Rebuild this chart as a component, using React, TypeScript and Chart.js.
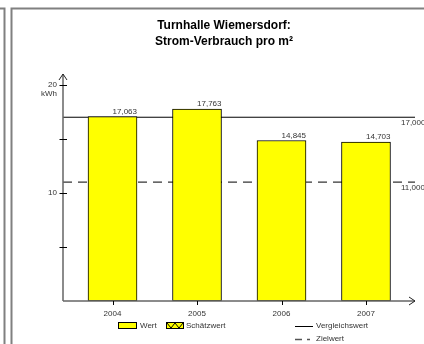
import React, { useEffect, useRef } from 'react';
import { Chart, registerables } from 'chart.js';

Chart.register(...registerables);

// ---- data ----
const TITLE_LINES = ['Turnhalle Wiemersdorf:', 'Strom-Verbrauch pro m²'];
const YEARS = ['2004', '2005', '2006', '2007'];
const WERT = [17.063, 17.763, 14.845, 14.703];
const SCHAETZWERT: (number | null)[] = [null, null, null, null];
const VERGLEICHSWERT = 17.0;
const ZIELWERT = 11.0;
const Y_TICKS = [0, 5, 10, 15, 20];
const Y_LABELED = [10, 20];
const Y_UNIT = 'kWh';
const Y_MAX = 21;
const X_MIN = -0.586;
const X_MAX = 3.58;
const LABEL_WERT = 'Wert';
const LABEL_SCHAETZ = 'Schätzwert';
const LABEL_VERGLEICH = 'Vergleichswert';
const LABEL_ZIEL = 'Zielwert';

const FONT = 'Arial, "Liberation Sans", sans-serif';
const fmt = (v: number) => v.toFixed(3).replace('.', ',');

const decoPlugin = {
  id: 'deco',
  afterDraw(chart: any) {
    const ctx: CanvasRenderingContext2D = chart.ctx;
    const { left, right, top, bottom } = chart.chartArea;
    const xs = chart.scales.x;
    const ys = chart.scales.y;
    ctx.save();

    // panel frames
    ctx.strokeStyle = '#808080';
    ctx.lineWidth = 2;
    ctx.beginPath();
    ctx.moveTo(0, 8.5);
    ctx.lineTo(4.5, 8.5);
    ctx.lineTo(4.5, 344);
    ctx.stroke();
    ctx.beginPath();
    ctx.moveTo(11.5, 344);
    ctx.lineTo(11.5, 8.5);
    ctx.lineTo(424, 8.5);
    ctx.stroke();

    // title
    ctx.fillStyle = '#000';
    ctx.font = `bold 12px ${FONT}`;
    ctx.textAlign = 'center';
    ctx.textBaseline = 'middle';
    TITLE_LINES.forEach((t, i) => ctx.fillText(t, 224, 26 + i * 16));

    // axes
    ctx.strokeStyle = '#666';
    ctx.lineWidth = 1.5;
    ctx.beginPath();
    ctx.moveTo(left, bottom);
    ctx.lineTo(left, top);
    ctx.moveTo(left, bottom);
    ctx.lineTo(right, bottom);
    ctx.stroke();
    ctx.strokeStyle = '#222';
    ctx.lineWidth = 1;
    ctx.beginPath();
    ctx.moveTo(left - 4, top + 6);
    ctx.lineTo(left, top);
    ctx.lineTo(left + 4, top + 6);
    ctx.moveTo(right - 6, bottom - 4);
    ctx.lineTo(right, bottom);
    ctx.lineTo(right - 6, bottom + 4);
    ctx.stroke();

    // tick marks
    ctx.strokeStyle = '#000';
    ctx.beginPath();
    Y_TICKS.filter((v) => v > 0).forEach((v) => {
      const y = Math.round(ys.getPixelForValue(v)) + 0.5;
      ctx.moveTo(left - 3.5, y);
      ctx.lineTo(left + 4, y);
    });
    YEARS.forEach((_, i) => {
      const x = Math.round(xs.getPixelForValue(i)) + 0.5;
      ctx.moveTo(x, bottom);
      ctx.lineTo(x, bottom + 4);
    });
    ctx.stroke();

    // unit
    ctx.fillStyle = '#333';
    ctx.font = `8px ${FONT}`;
    ctx.textAlign = 'right';
    ctx.textBaseline = 'middle';
    ctx.fillText(Y_UNIT, left - 6, ys.getPixelForValue(Y_LABELED[Y_LABELED.length - 1]) + 9);

    // value labels
    const meta = chart.getDatasetMeta(0);
    ctx.textBaseline = 'alphabetic';
    meta.data.forEach((el: any, i: number) => {
      const p = el.getProps(['x', 'y', 'width'], true);
      ctx.fillText(fmt(WERT[i]), p.x + p.width / 2, p.y - 3);
    });

    // reference value labels
    ctx.textAlign = 'left';
    ctx.textBaseline = 'middle';
    ctx.fillText(fmt(VERGLEICHSWERT), right - 14, ys.getPixelForValue(VERGLEICHSWERT) + 6);
    ctx.fillText(fmt(ZIELWERT), right - 14, ys.getPixelForValue(ZIELWERT) + 6);

    // legend
    const ds = chart.data.datasets;
    ctx.lineWidth = 1;
    // Wert
    ctx.fillStyle = '#FFFF00';
    ctx.fillRect(118.5, 322.5, 18, 6);
    ctx.strokeStyle = '#000';
    ctx.strokeRect(118.5, 322.5, 18, 6);
    // Schätzwert
    ctx.fillStyle = '#FFFF00';
    ctx.fillRect(166.5, 322.5, 17, 6);
    ctx.beginPath();
    ctx.moveTo(167, 323);
    ctx.lineTo(171, 328);
    ctx.lineTo(175, 323);
    ctx.lineTo(179, 328);
    ctx.lineTo(183, 323);
    ctx.strokeStyle = '#000';
    ctx.stroke();
    ctx.strokeRect(166.5, 322.5, 17, 6);
    // Vergleichswert
    ctx.beginPath();
    ctx.moveTo(295, 326.5);
    ctx.lineTo(313, 326.5);
    ctx.stroke();
    // Zielwert
    ctx.setLineDash([7, 5]);
    ctx.strokeStyle = '#555';
    ctx.lineWidth = 1.5;
    ctx.beginPath();
    ctx.moveTo(295, 339.5);
    ctx.lineTo(310, 339.5);
    ctx.stroke();
    ctx.setLineDash([]);

    ctx.fillStyle = '#333';
    ctx.font = `8px ${FONT}`;
    ctx.textAlign = 'left';
    ctx.textBaseline = 'middle';
    ctx.fillText(ds[0].label, 140, 326);
    ctx.fillText(ds[1].label, 186, 326);
    ctx.fillText(ds[2].label, 316, 326);
    ctx.fillText(ds[3].label, 316, 339);

    ctx.restore();
  },
};

export default function App() {
  const ref = useRef<HTMLCanvasElement | null>(null);

  useEffect(() => {
    if (!ref.current) return;
    const chart = new Chart(ref.current, {
      type: 'bar',
      data: {
        datasets: [
          {
            type: 'bar',
            label: LABEL_WERT,
            data: WERT.map((v, i) => ({ x: i, y: v })),
            backgroundColor: '#FFFF00',
            borderColor: '#000',
            borderWidth: 1,
            borderSkipped: false,
            barThickness: 49,
            grouped: false,
          } as any,
          {
            type: 'bar',
            label: LABEL_SCHAETZ,
            data: SCHAETZWERT.map((v, i) => ({ x: i, y: v })),
            backgroundColor: '#FFFF00',
            borderColor: '#000',
            borderWidth: 1,
            barThickness: 49,
            grouped: false,
          } as any,
          {
            type: 'line',
            label: LABEL_VERGLEICH,
            data: [
              { x: X_MIN, y: VERGLEICHSWERT },
              { x: X_MAX, y: VERGLEICHSWERT },
            ],
            borderColor: '#000',
            borderWidth: 1,
            pointRadius: 0,
          } as any,
          {
            type: 'line',
            label: LABEL_ZIEL,
            data: [
              { x: X_MIN, y: ZIELWERT },
              { x: X_MAX, y: ZIELWERT },
            ],
            borderColor: '#000',
            borderWidth: 1,
            borderDash: [9, 6],
            pointRadius: 0,
          } as any,
        ],
      },
      options: {
        animation: false,
        responsive: false,
        events: [],
        layout: { padding: { left: 38, right: 9, top: 74, bottom: 23 } },
        plugins: {
          legend: { display: false },
          title: { display: false },
          tooltip: { enabled: false },
        },
        scales: {
          x: {
            type: 'linear',
            min: X_MIN,
            max: X_MAX,
            offset: false,
            grid: { display: false, drawTicks: false, offset: false },
            border: { display: false },
            afterBuildTicks: (s: any) => {
              s.ticks = YEARS.map((_, i) => ({ value: i }));
            },
            afterFit: (s: any) => {
              s.height = 20;
            },
            ticks: {
              padding: 8,
              color: '#333',
              font: { family: FONT, size: 8 },
              maxRotation: 0,
              autoSkip: false,
              callback: (v: any) => YEARS[v] ?? '',
            },
          },
          y: {
            type: 'linear',
            min: 0,
            max: Y_MAX,
            grid: { display: false, drawTicks: false },
            border: { display: false },
            afterBuildTicks: (s: any) => {
              s.ticks = Y_TICKS.map((v) => ({ value: v }));
            },
            afterFit: (s: any) => {
              s.width = 25;
            },
            ticks: {
              padding: 6,
              color: '#333',
              font: { family: FONT, size: 8 },
              autoSkip: false,
              callback: (v: any) => (Y_LABELED.includes(v) ? String(v) : ''),
            },
          },
        },
      } as any,
      plugins: [decoPlugin],
    });
    return () => chart.destroy();
  }, []);

  return (
    <div style={{ position: 'absolute', left: 0, top: 0, width: 424, height: 344, background: '#fff' }}>
      <canvas ref={ref} width={424} height={344} />
    </div>
  );
}
